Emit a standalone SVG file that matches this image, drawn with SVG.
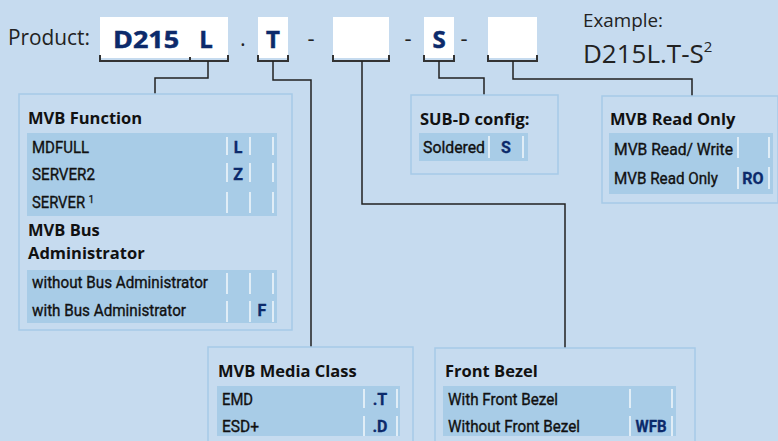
<svg xmlns="http://www.w3.org/2000/svg" width="778" height="441" viewBox="0 0 778 441">
<style>
.box{fill:#c6dbef;stroke:#a6cae8;stroke-width:1.5}
.tbl{fill:#a8cce7}
.sep{stroke:#eef5fb;stroke-width:1.6}
.title{font-family:"Open Sans","Noto Sans",sans-serif;font-weight:bold;font-size:16.5px;fill:#111}
.row{font-family:Roboto,"Liberation Sans",sans-serif;font-size:16px;fill:#111;stroke:#111;stroke-width:0.35}
.sup{font-family:Roboto,"Liberation Sans",sans-serif;font-size:10px;fill:#111;stroke:#111;stroke-width:0.25}
.code{font-family:Roboto,"Liberation Sans",sans-serif;font-weight:bold;font-size:16px;fill:#0c2a6b;stroke:#0c2a6b;stroke-width:0.3;text-anchor:middle}
.head{font-family:"Open Sans","Noto Sans",sans-serif;fill:#222}
.big{font-family:"Open Sans","Noto Sans",sans-serif;font-weight:bold;font-size:24px;fill:#0c2a6b;stroke:#0c2a6b;stroke-width:0.5}
.wbox{fill:#ffffff}
.brk{fill:none;stroke:#333;stroke-width:2}
.conn{fill:none;stroke:#222;stroke-width:1.5}
</style>
<rect x="0" y="0" width="778" height="441" fill="#c6dbef"/>

<g id="header">
<text class="head" x="8" y="45" font-size="22" textLength="82" lengthAdjust="spacingAndGlyphs">Product:</text>
<rect class="wbox" x="100" y="17" width="128" height="41"/>
<rect class="wbox" x="258" y="17" width="30" height="41"/>
<rect class="wbox" x="333" y="17" width="56" height="41"/>
<rect class="wbox" x="424" y="17" width="30" height="41"/>
<rect class="wbox" x="488" y="17" width="49" height="41"/>
<text class="big" x="113" y="48" textLength="66" lengthAdjust="spacingAndGlyphs">D215</text>
<text class="big" x="206" y="48" text-anchor="middle">L</text>
<text class="big" x="273" y="48" text-anchor="middle">T</text>
<text class="big" x="439" y="48" text-anchor="middle">S</text>
<text class="head" x="243" y="46" font-size="22" text-anchor="middle">.</text>
<text class="head" x="311" y="46" font-size="22" text-anchor="middle">-</text>
<text class="head" x="408" y="46" font-size="22" text-anchor="middle">-</text>
<text class="head" x="464" y="46" font-size="22" text-anchor="middle">-</text>
<path class="brk" d="M100,55 V61 H228 V55 M190,57 V61"/>
<path class="brk" d="M258,55 V61 H288 V55"/>
<path class="brk" d="M333,55 V61 H389 V55"/>
<path class="brk" d="M424,55 V61 H454 V55"/>
<path class="brk" d="M488,55 V61 H537 V55"/>
<text class="head" x="583" y="27" font-size="18" textLength="80" lengthAdjust="spacingAndGlyphs">Example:</text>
<text class="head" x="583" y="63" font-size="26">D215L.T-S<tspan font-size="15" dy="-11">2</tspan></text>
</g>

<g id="connectors">
<path class="conn" d="M208,61 V78 H155 V94"/>
<path class="conn" d="M273,61 V80 H311 V347"/>
<path class="conn" d="M362,61 V204 H565 V348"/>
<path class="conn" d="M439,61 V78 H484 V95"/>
<path class="conn" d="M513,61 V79 H692 V96"/>
</g>

<g id="mvb-function">
<rect class="box" x="19" y="94" width="273" height="236"/>
<text class="title" x="28" y="124">MVB Function</text>
<rect class="tbl" x="27" y="133" width="250" height="83"/>
<path class="sep" d="M227,137 V155 M250,137 V155 M273,137 V155 M227,163 V182 M250,163 V182 M273,163 V182 M227,192 V213 M250,192 V213 M273,192 V213"/>
<text class="row" x="32" y="153" textLength="57" lengthAdjust="spacingAndGlyphs">MDFULL</text>
<text class="row" x="32" y="180" textLength="63" lengthAdjust="spacingAndGlyphs">SERVER2</text>
<text class="row" x="32" y="208" textLength="53" lengthAdjust="spacingAndGlyphs">SERVER</text>
<text class="sup" x="88.5" y="203">1</text>
<text class="code" x="238" y="153">L</text>
<text class="code" x="238" y="180">Z</text>
<text class="title" x="28" y="236">MVB Bus</text>
<text class="title" x="28" y="259">Administrator</text>
<rect class="tbl" x="27" y="270" width="250" height="53"/>
<path class="sep" d="M227,273 V294 M250,273 V294 M273,273 V294 M227,301 V322 M250,301 V322 M273,301 V322"/>
<text class="row" x="32" y="288" textLength="176" lengthAdjust="spacingAndGlyphs">without Bus Administrator</text>
<text class="row" x="32" y="316" textLength="154" lengthAdjust="spacingAndGlyphs">with Bus Administrator</text>
<text class="code" x="262" y="316">F</text>
</g>

<g id="subd-config">
<rect class="box" x="411" y="95" width="147" height="79"/>
<text class="title" x="420" y="125">SUB-D config:</text>
<rect class="tbl" x="419" y="133" width="109" height="28"/>
<path class="sep" d="M489,136 V158 M523,136 V158"/>
<text class="row" x="423" y="153" textLength="62" lengthAdjust="spacingAndGlyphs">Soldered</text>
<text class="code" x="506" y="153">S</text>
</g>

<g id="mvb-read-only">
<rect class="box" x="602" y="96" width="176" height="107"/>
<text class="title" x="610" y="125">MVB Read Only</text>
<rect class="tbl" x="609" y="133" width="164" height="61"/>
<path class="sep" d="M738,137 V158 M769,137 V158 M738,167 V189 M769,167 V189"/>
<text class="row" x="614" y="155" textLength="119" lengthAdjust="spacingAndGlyphs">MVB Read/ Write</text>
<text class="row" x="614" y="184" textLength="104" lengthAdjust="spacingAndGlyphs">MVB Read Only</text>
<text class="code" x="753" y="184">RO</text>
</g>

<g id="mvb-media-class">
<rect class="box" x="208" y="347" width="205" height="100"/>
<text class="title" x="218" y="377">MVB Media Class</text>
<rect class="tbl" x="217" y="386" width="183" height="50"/>
<path class="sep" d="M364,389 V408 M397,389 V408 M364,416 V436 M397,416 V436"/>
<text class="row" x="222" y="405" textLength="31" lengthAdjust="spacingAndGlyphs">EMD</text>
<text class="row" x="222" y="432" textLength="37" lengthAdjust="spacingAndGlyphs">ESD+</text>
<text class="code" x="380" y="405">.T</text>
<text class="code" x="380" y="432">.D</text>
</g>

<g id="front-bezel">
<rect class="box" x="435" y="348" width="260" height="100"/>
<text class="title" x="445" y="377">Front Bezel</text>
<rect class="tbl" x="443" y="386" width="233" height="50"/>
<path class="sep" d="M630,389 V408 M672,389 V408 M630,416 V436 M672,416 V436"/>
<text class="row" x="448" y="405" textLength="110" lengthAdjust="spacingAndGlyphs">With Front Bezel</text>
<text class="row" x="448" y="432" textLength="132" lengthAdjust="spacingAndGlyphs">Without Front Bezel</text>
<text class="code" x="651" y="432" textLength="31" lengthAdjust="spacingAndGlyphs">WFB</text>
</g>
</svg>
